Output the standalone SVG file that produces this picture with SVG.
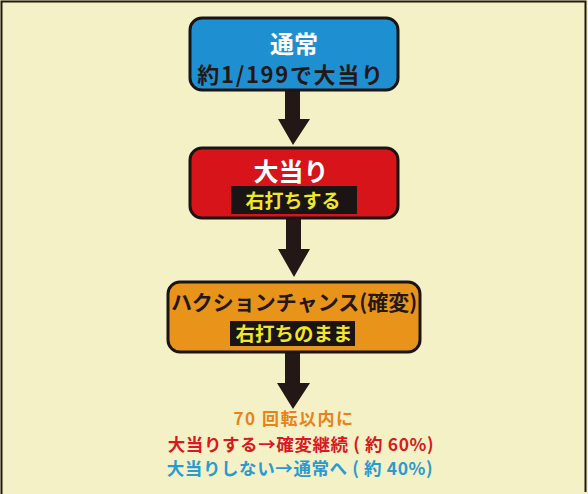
<svg xmlns="http://www.w3.org/2000/svg" width="588" height="494" viewBox="0 0 588 494">
<style>
text{font-family:"Noto Sans CJK JP","Noto Sans",sans-serif;font-weight:bold;text-anchor:middle}
.box{stroke:#1a1414;stroke-width:3}
.lbl{fill:#1a1414}
.arrow{fill:#231815}
.w{fill:#ffffff}
.d{fill:#231815}
.y{fill:#f2e52a}
</style>
<rect x="0" y="0" width="588" height="494" fill="#f5f1c6"/>
<path d="M1.5,494 V1.5 H585.5 V492" fill="none" stroke="#231815" stroke-width="2"/>
<g id="connectors">
<polygon class="arrow" points="285,90 300,90 300,119 310,119 293,145 278,119 285,119"/>
<polygon class="arrow" points="286,218 301,218 301,249 310,249 294,277 278,249 286,249"/>
<polygon class="arrow" points="285,352 300,352 300,383 310,383 293,409 277,383 285,383"/>
</g>
<g id="node-normal">
<rect class="box" x="190" y="18" width="208" height="72" rx="12" fill="#1e90d2"/>
<text class="w" x="294" y="53" font-size="24">通常</text>
<text class="d" x="291" y="83" font-size="22" letter-spacing="1.7">約1/199で大当り</text>
</g>
<g id="node-hit">
<rect class="box" x="190" y="148" width="208" height="70" rx="12" fill="#d7141a"/>
<text class="w" x="291" y="181" font-size="25">大当り</text>
<rect class="lbl" x="231" y="186" width="126" height="28"/>
<text class="y" x="293" y="208" font-size="19">右打ちする</text>
</g>
<g id="node-chance">
<rect class="box" x="168" y="282" width="252" height="70" rx="12" fill="#e8931a"/>
<text class="d" x="294" y="310" font-size="21">ハクションチャンス(確変)</text>
<rect class="lbl" x="230" y="321" width="125" height="25"/>
<text class="y" x="294" y="341" font-size="19.5">右打ちのまま</text>
</g>
<g id="result">
<text x="294" y="425" font-size="17" fill="#e8831a" letter-spacing="1.5">70 回転以内に</text>
<text x="301" y="451" font-size="17.5" fill="#d81a20" letter-spacing="0.6">大当りする→確変継続 ( 約 60%)</text>
<text x="300" y="475" font-size="17.5" fill="#2a9ad0" letter-spacing="0.6">大当りしない→通常へ ( 約 40%)</text>
</g>
</svg>
